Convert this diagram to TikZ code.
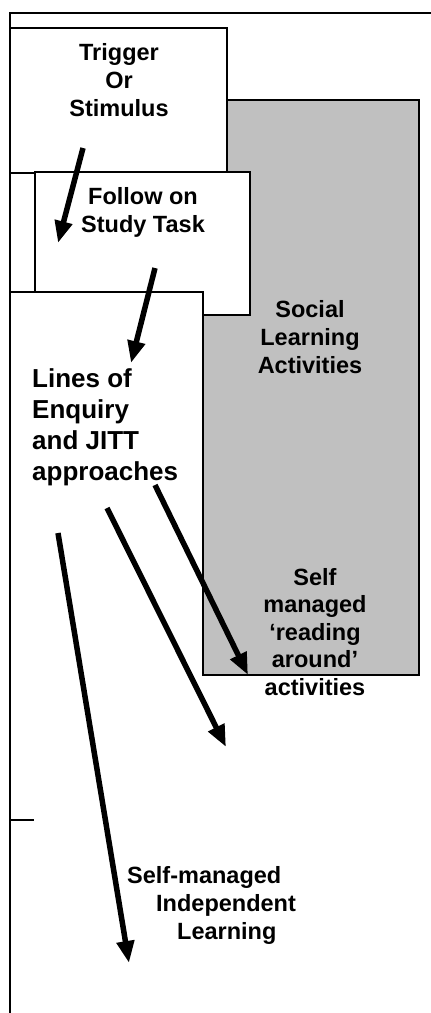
\documentclass[tikz,border=0pt]{standalone}
\usepackage{fontspec}
\setmainfont{Liberation Sans}
\usetikzlibrary{arrows.meta}
\definecolor{panelgray}{HTML}{C0C0C0}
\begin{document}
\begin{tikzpicture}[x=1pt,y=-1pt,
  box/.style={draw=black, line width=1.4pt, fill=white, inner sep=0pt, outer sep=0pt, anchor=north west},
  lbl/.style={font=\bfseries\fontsize{23.5}{28}\selectfont, align=center, inner sep=0pt},
  biglbl/.style={font=\bfseries\fontsize{26}{31}\selectfont, align=left, inner sep=0pt},
  frame/.style={line width=1.4pt},
  flow/.style={line width=5.5pt, -{Triangle[length=22pt,width=17pt]}}]
\useasboundingbox (0,0) rectangle (431,1013);
% grey social-learning panel
\node[box, fill=panelgray, minimum width=216pt, minimum height=575pt] (social) at (203,100) {};
% trigger box
\node[box, minimum width=217pt, minimum height=145pt] (trigger) at (10,28) {};
% follow-on box
\node[box, minimum width=215pt, minimum height=143pt] (follow) at (35,172) {};
% lines of enquiry panel (white, top and right edges only)
\node[box, draw=none, minimum width=193pt, minimum height=383pt] (lines) at (10,292) {};
\draw[frame] (lines.north west) -- (lines.north east) -- (lines.south east);
% outer frame (open to right and bottom)
\coordinate (fTL) at (10,13);
\coordinate (fTR) at (431,13);
\coordinate (fBL) at (10,1013);
\draw[frame] (fTR) -- (fTL) -- (fBL);
% small tick on the left frame
\coordinate (tickA) at (10,820);
\coordinate (tickB) at (34,820);
\draw[frame] (tickA) -- (tickB);
% labels
\node[lbl, anchor=north] (tTrig) at (119,43) {Trigger\\Or\\Stimulus};
\node[lbl, anchor=north] (tFollow) at (143,187) {Follow on\\Study Task};
\node[lbl, anchor=north] (tSocial) at (310,300) {Social\\Learning\\Activities};
\node[biglbl, anchor=north west] (tLines) at (32,368) {Lines of\\Enquiry\\and JITT\\approaches};
\node[lbl, anchor=north, font=\bfseries\fontsize{23.5}{27.5}\selectfont] (tRead) at (315,568) {Self\\managed\\‘reading\\around’\\activities};
\node[lbl, anchor=north west, align=left] (tIndep) at (127,866) {Self-managed\\\hspace*{29pt}Independent\\\hspace*{50pt}Learning};
% arrows
\coordinate (a1s) at (83,148);  \coordinate (a1e) at (58,243);
\coordinate (a2s) at (155,268); \coordinate (a2e) at (131,363);
\coordinate (a3s) at (155,485); \coordinate (a3e) at (248,675);
\coordinate (a4s) at (107,508); \coordinate (a4e) at (226,747);
\coordinate (a5s) at (58,533);  \coordinate (a5e) at (129,963);
\draw[flow] (a1s) -- (a1e);
\draw[flow] (a2s) -- (a2e);
\draw[flow] (a3s) -- (a3e);
\draw[flow] (a4s) -- (a4e);
\draw[flow] (a5s) -- (a5e);
\end{tikzpicture}
\end{document}
